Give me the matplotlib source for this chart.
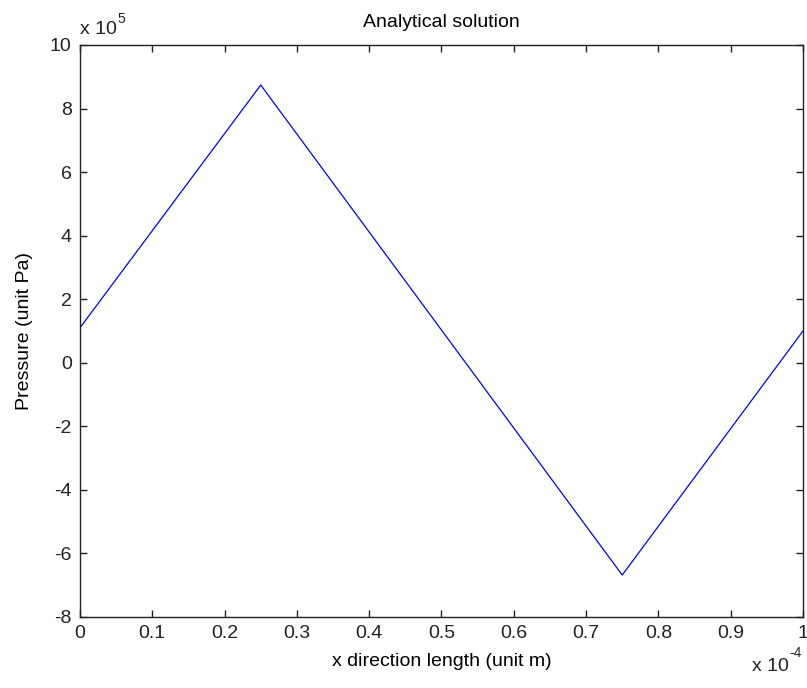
import matplotlib
matplotlib.use('Agg')
import matplotlib.pyplot as plt
import numpy as np

# analytical pressure profile (x in m, pressure in Pa)
x_m = [0.0, 0.25e-4, 0.75e-4, 1.0e-4]
p_pa = [1.1e5, 8.74e5, -6.68e5, 1.0e5]

xticks = [0, 0.1, 0.2, 0.3, 0.4, 0.5, 0.6, 0.7, 0.8, 0.9, 1]
xticklabels = ['0', '0.1', '0.2', '0.3', '0.4', '0.5', '0.6', '0.7', '0.8', '0.9', '1']
yticks = [-8, -6, -4, -2, 0, 2, 4, 6, 8, 10]

plt.rcParams['font.family'] = ['Liberation Sans', 'DejaVu Sans']
plt.rcParams['font.size'] = 14
plt.rcParams['axes.unicode_minus'] = False

fig = plt.figure(figsize=(8.07, 6.88), dpi=100)
ax = fig.add_axes([0.0991, 0.1032, 0.8959, 0.8314])

ax.plot(np.array(x_m) / 1e-4, np.array(p_pa) / 1e5, color='#0000ff', linewidth=0.9)

ax.set_xlim(0, 1)
ax.set_ylim(-8, 10)
ax.set_xticks(xticks)
ax.set_xticklabels(xticklabels)
ax.set_yticks(yticks)
ax.tick_params(direction='in', length=5, width=1, top=True, right=True,
               labelsize=14, colors='#222222', pad=6)
for s in ax.spines.values():
    s.set_linewidth(1)
    s.set_color('#222222')

ax.set_title('Analytical solution', fontsize=14, pad=13)
ax.set_xlabel('x direction length (unit m)', fontsize=14, labelpad=8)
ax.set_ylabel('Pressure (unit Pa)', fontsize=14, labelpad=12)

# multiplier labels, MATLAB style
ax.text(0.0, 1.012, 'x 10', transform=ax.transAxes, fontsize=14,
        ha='left', va='bottom', color='#222222')
ax.text(0.052, 1.034, '5', transform=ax.transAxes, fontsize=10,
        ha='left', va='bottom', color='#222222')
ax.text(0.981, -0.072, 'x 10', transform=ax.transAxes, fontsize=14,
        ha='right', va='top', color='#222222')
ax.text(0.981, -0.05, '-4', transform=ax.transAxes, fontsize=10,
        ha='left', va='top', color='#222222')

fig.savefig('out.png', dpi=100)
